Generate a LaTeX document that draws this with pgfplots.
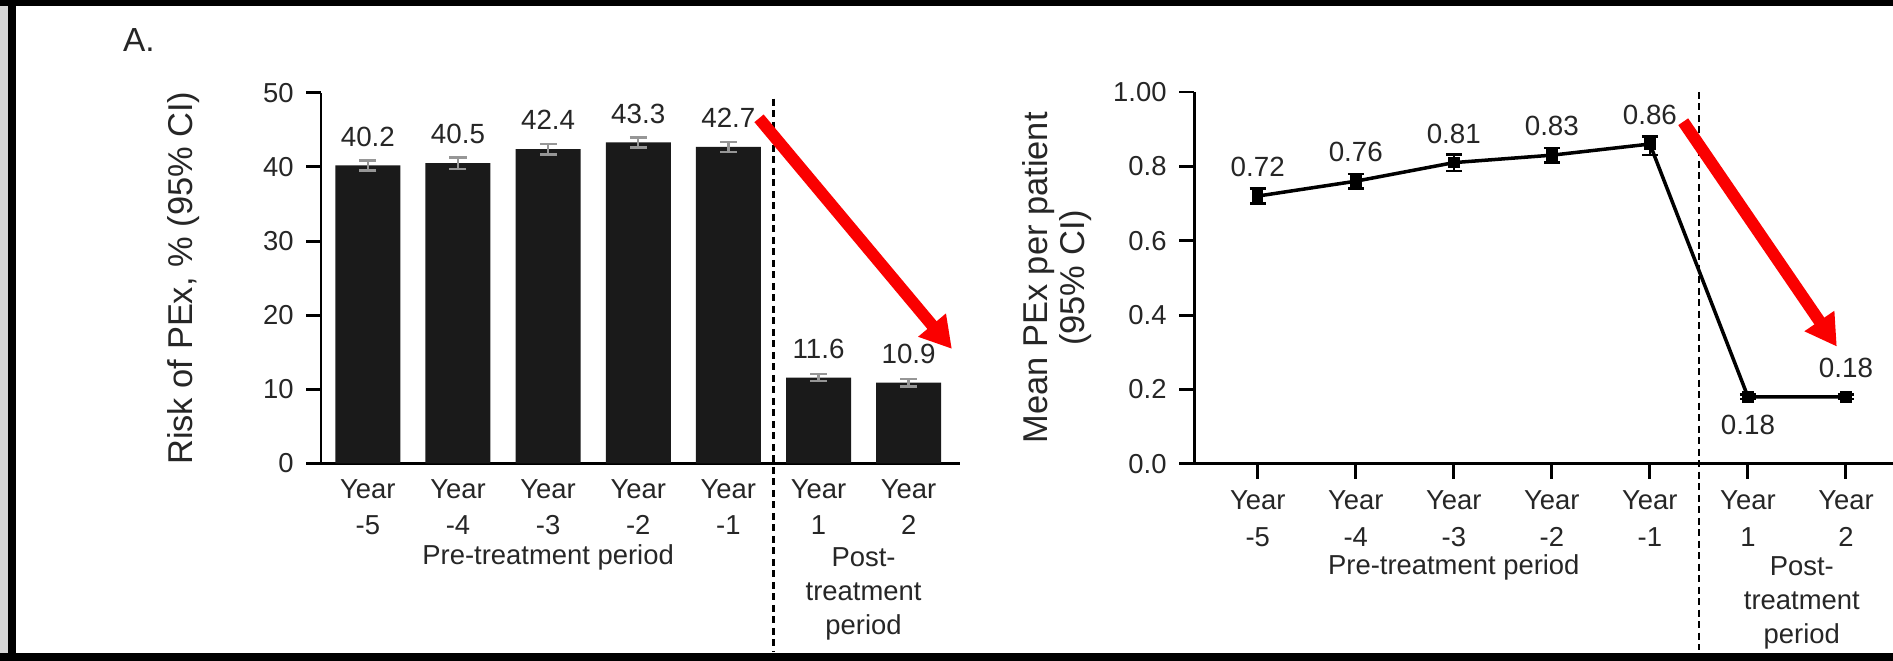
\documentclass[border=0pt]{standalone}
\usepackage{fontspec}
\setmainfont{Liberation Sans}
\usepackage{pgfplots}
\usepackage{pgfplotstable}
\pgfplotsset{compat=1.18}
\usetikzlibrary{arrows.meta}

\definecolor{barfill}{RGB}{26,26,26}
\definecolor{txt}{RGB}{38,38,38}
\definecolor{ebgray}{RGB}{150,150,150}
\definecolor{arrowred}{RGB}{250,0,0}
\definecolor{strip}{RGB}{214,214,214}

% Risk of PEx per year (%), with half-width of the 95% CI
\pgfplotstableread{
x  y     e
0  40.2  0.70
1  40.5  0.75
2  42.4  0.70
3  43.3  0.70
4  42.7  0.70
5  11.6  0.50
6  10.9  0.50
}\riskdata

% Mean PEx per patient, with the 95% CI
\pgfplotstableread{
x  y     ep     em
0  0.72  0.020  0.020
1  0.76  0.020  0.020
2  0.81  0.022  0.022
3  0.83  0.020  0.020
4  0.86  0.020  0.030
5  0.18  0.006  0.006
6  0.18  0.006  0.006
}\meandata

\tikzset{
  vlabel/.style={font=\fontsize{7.9}{9}\selectfont, text=txt},
  period/.style={font=\fontsize{7.8}{9.7}\selectfont, text=txt, align=center},
  divider/.style={line width=0.7pt, black, dash pattern=on 0.07cm off 0.045cm},
  bigarrow/.style={arrowred, line width=0.12cm,
    -{Triangle[length=0.31cm, width=0.34cm]}},
}

\pgfplotsset{
  panel/.style={
    scale only axis,
    axis lines*=left,
    axis line style={line width=0.85pt, black},
    ymin=0,
    tick align=outside,
    major tick length=0.15cm,
    tick style={line width=0.85pt, black},
    xtick={0,...,6},
    xticklabels={{Year\\-5},{Year\\-4},{Year\\-3},{Year\\-2},{Year\\-1},{Year\\1},{Year\\2}},
    x tick label style={align=center, font=\fontsize{7.8}{10.3}\selectfont, text=txt},
    y tick label style={font=\fontsize{7.8}{9}\selectfont, text=txt},
    /pgf/number format/assume math mode=true,
    clip=false,
    every axis y label/.style={at={([xshift=-1.37cm]axis description cs:0,0.5)},
      rotate=90, anchor=center, align=center,
      font=\fontsize{9.8}{10.6}\selectfont, text=txt},
  },
  meanlabels/.style={draw=none, mark=none, forget plot,
    nodes near coords={\pgfmathprintnumber[fixed,fixed zerofill,precision=2]{\pgfplotspointmeta}},
    every node near coord/.append style={vlabel, anchor=center, yshift=#1}},
}

\begin{document}
\begin{tikzpicture}
\useasboundingbox (0,0) rectangle (18.93,6.61);
\fill[white] (0,0) rectangle (18.93,6.61);

\node[font=\fontsize{9.5}{10}\selectfont, text=txt] at (1.39,6.21) {A.};

% Panel 1: risk of PEx
\begin{axis}[panel,
  at={(3.21cm,1.975cm)}, anchor=south west,
  width=6.39cm, height=3.707cm,
  xmin=-0.52, xmax=6.57, ymax=50,
  ytick={0,10,20,30,40,50},
  major x tick style={draw=none},
  x tick label style={yshift=0.11cm},
  ylabel={Risk of PEx, \% (95\% CI)},
]
\addplot[ybar, bar width=0.65cm, fill=barfill, draw=none,
  nodes near coords={\pgfmathprintnumber[fixed,fixed zerofill,precision=1]{\pgfplotspointmeta}},
  every node near coord/.append style={vlabel, anchor=center, yshift=0.29cm},
  error bars/.cd, y dir=both, y explicit,
  error bar style={ebgray, line width=0.7pt},
  error mark options={rotate=90, mark size=0.085cm, ebgray, line width=0.7pt}]
  table[x=x, y=y, y error=e] {\riskdata};
\draw[divider] (axis cs:4.5,49.2) -- (axis cs:4.5,-25.3);
\node[period] at (axis cs:2,-12.7) {Pre-treatment period};
\node[period] at (axis cs:5.5,-17.55) {Post-\\treatment\\period};
\draw[bigarrow] (axis cs:4.34,46.56) -- (axis cs:6.48,15.46);
\end{axis}

% Panel 2: mean PEx per patient
\begin{axis}[panel,
  at={(11.94cm,1.973cm)}, anchor=south west,
  width=6.99cm, height=3.717cm,
  xmin=-0.65, xmax=6.48, ymax=1,
  ytick={0,0.2,0.4,0.6,0.8,1},
  yticklabels={0.0,0.2,0.4,0.6,0.8,1.00},
  ylabel={Mean PEx per patient\\(95\% CI)},
]
\addplot[black, line width=1pt, mark=square*, mark size=0.04cm,
  error bars/.cd, y dir=both, y explicit,
  error bar style={black, line width=0.7pt},
  error mark options={rotate=90, mark size=0.08cm, black, line width=0.7pt}]
  table[x=x, y=y, y error plus=ep, y error minus=em] {\meandata};
% value labels: above the points, except Year 1 which sits below
\addplot[meanlabels=0.29cm] table[x=x, y=y] {
x y
0 0.72
1 0.76
2 0.81
3 0.83
4 0.86
6 0.18
};
\addplot[meanlabels=-0.28cm] table[x=x, y=y] {
x y
5 0.18
};
\draw[divider] (axis cs:4.5,1.0) -- (axis cs:4.5,-0.5);
\node[period] at (axis cs:2,-0.278) {Pre-treatment period};
\node[period] at (axis cs:5.55,-0.375) {Post-\\treatment\\period};
\draw[bigarrow] (axis cs:4.34,0.92) -- (axis cs:5.907,0.315);
\end{axis}

% frame
\fill[strip] (0,0) rectangle (0.08,6.61);
\fill[black] (0.08,0) rectangle (0.165,6.61);
\fill[black] (0,6.55) rectangle (18.93,6.61);
\fill[black] (0,0) rectangle (18.93,0.08);
\end{tikzpicture}
\end{document}
